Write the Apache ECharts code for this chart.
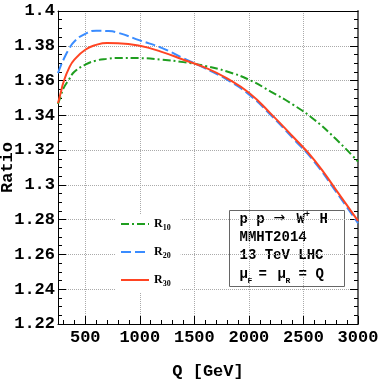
<!DOCTYPE html>
<html>
<head>
<meta charset="utf-8">
<script src="https://cdn.jsdelivr.net/npm/echarts@6/dist/echarts.min.js"></script>
<style>
  html, body { margin: 0; padding: 0; background: #fff; }
  #chart { width: 382px; height: 382px; }
</style>
</head>
<body>
<div id="chart"></div>
<script>
// Q values in GeV
const qValues = [250, 275, 300, 350, 400, 500, 600, 700, 800, 1000, 1200, 1400, 1600, 1800, 2000, 2200, 2400, 2600, 2800, 3000]
const r10 = [1.3465, 1.3510, 1.3555, 1.3605, 1.3650, 1.3691, 1.3715, 1.3725, 1.3730, 1.3729, 1.3720, 1.3706, 1.3684, 1.3652, 1.3605, 1.3537, 1.3463, 1.3375, 1.3262, 1.3134]
const r20 = [1.3643, 1.3685, 1.3720, 1.3780, 1.3825, 1.3869, 1.3887, 1.3885, 1.3875, 1.3831, 1.3788, 1.3728, 1.3670, 1.3605, 1.3520, 1.3402, 1.3270, 1.3133, 1.2960, 1.2780]
const r30 = [1.3470, 1.3530, 1.3590, 1.3670, 1.3720, 1.3777, 1.3805, 1.3816, 1.3815, 1.3800, 1.3765, 1.3720, 1.3674, 1.3612, 1.3530, 1.3410, 1.3280, 1.3143, 1.2970, 1.2793]
const xTickLabels = [500, 1000, 1500, 2000, 2500, 3000]
const xMinorTicks = []
for (let v = 300; v <= 3000; v += 100) xMinorTicks.push(v)

const monoFont = 'Liberation Mono'
const green = '#1f9e1f'
const blue = '#3a8cff'
const red = '#ff4422'

function pairs(ys) {
  return qValues.map((q, i) => [q, ys[i]])
}

// one piece of text in the info box
function boxText(x, y, text, size) {
  return {
    type: 'text',
    x: x,
    y: y,
    style: {
      text: text,
      fontFamily: monoFont,
      fontWeight: 'bold',
      fontSize: size || 14,
      fill: '#000',
      verticalAlign: 'middle'
    }
  }
}

const chart = echarts.init(document.getElementById('chart'), null, { renderer: 'canvas' })

const gridLine = { show: true, lineStyle: { color: '#aaa', type: [1, 1], width: 1 } }

chart.setOption({
  animation: false,
  backgroundColor: '#fff',
  grid: { left: 58, right: 24, top: 11, bottom: 58, containLabel: false, outerBoundsMode: 'none' },
  legend: {
    orient: 'vertical',
    left: 116,
    top: 214,
    itemWidth: 28,
    itemHeight: 12,
    itemGap: 14,
    padding: [4, 10, 4, 4],
    backgroundColor: '#fff',
    itemStyle: { opacity: 0 },
    formatter: function (name) {
      return '{r|R}{s|' + name.slice(1) + '}'
    },
    textStyle: {
      rich: {
        r: { fontFamily: 'Liberation Serif', fontWeight: 'bold', fontSize: 12, color: '#000' },
        s: { fontFamily: 'Liberation Serif', fontWeight: 'bold', fontSize: 8, color: '#000', verticalAlign: 'bottom', padding: [8, 0, 0, 0] }
      }
    },
    data: ['R10', 'R20', 'R30']
  },
  xAxis: [{
    type: 'value',
    min: 250,
    max: 3000,
    position: 'bottom',
    name: 'Q [GeV]',
    nameLocation: 'middle',
    nameGap: 39,
    nameTextStyle: { fontFamily: monoFont, fontWeight: 'bold', fontSize: 17, color: '#000' },
    axisLine: { show: true, lineStyle: { color: '#000', width: 1 } },
    axisTick: { show: true, inside: true, length: 8, customValues: xTickLabels, lineStyle: { color: '#000' } },
    axisLabel: {
      customValues: xTickLabels,
      formatter: v => String(v),
      fontFamily: monoFont, fontWeight: 'bold', fontSize: 17, color: '#000', margin: 5
    },
    splitLine: gridLine
  }, {
    type: 'value',
    min: 250,
    max: 3000,
    position: 'bottom',
    axisLine: { show: false },
    axisTick: { show: true, inside: true, length: 4, customValues: xMinorTicks, lineStyle: { color: '#000' } },
    axisLabel: { show: false },
    splitLine: { show: false }
  }, {
    type: 'value',
    min: 250,
    max: 3000,
    position: 'top',
    axisLine: { show: true, lineStyle: { color: '#000', width: 1 } },
    axisTick: { show: false },
    axisLabel: { show: false },
    splitLine: { show: false }
  }],
  yAxis: [{
    type: 'value',
    min: 1.22,
    max: 1.4,
    interval: 0.02,
    position: 'left',
    name: 'Ratio',
    nameLocation: 'middle',
    nameGap: 50,
    nameRotate: 90,
    nameMoveOverlap: false,
    nameTextStyle: { fontFamily: monoFont, fontWeight: 'bold', fontSize: 17, color: '#000', align: 'center', verticalAlign: 'middle' },
    axisLine: { show: true, lineStyle: { color: '#000', width: 1 } },
    axisTick: { show: true, inside: true, length: 8, lineStyle: { color: '#000' } },
    minorTick: { show: true, splitNumber: 4, length: 4, lineStyle: { color: '#000' } },
    axisLabel: { fontFamily: monoFont, fontWeight: 'bold', fontSize: 17, color: '#000', margin: 3 },
    splitLine: gridLine
  }, {
    type: 'value',
    min: 1.22,
    max: 1.4,
    interval: 0.02,
    position: 'right',
    axisLine: { show: true, lineStyle: { color: '#666', width: 2 } },
    axisTick: { show: true, inside: true, length: 8, lineStyle: { color: '#000' } },
    minorTick: { show: true, splitNumber: 4, length: 4, lineStyle: { color: '#000' } },
    axisLabel: { show: false },
    splitLine: { show: false }
  }],
  graphic: [{
    type: 'group',
    left: 229,
    top: 210,
    children: [{
      type: 'rect',
      shape: { x: 0, y: 0, width: 115, height: 76 },
      style: { fill: '#fff', stroke: '#666', lineWidth: 1 }
    },
    boxText(10, 9, 'p p'),
    {
      type: 'text', x: 44, y: 8,
      style: { text: '→', fontFamily: 'DejaVu Sans', fontSize: 14, fill: '#000', verticalAlign: 'middle' }
    },
    boxText(67, 9, 'W'),
    boxText(75, 4, '+', 9),
    boxText(90, 9, 'H'),
    boxText(10, 27, 'MMHT2014'),
    boxText(10, 45, '13 TeV LHC'),
    boxText(10, 64, 'μ'),
    boxText(18, 70, 'F', 8),
    boxText(29, 64, '='),
    boxText(48, 64, 'μ'),
    boxText(56, 70, 'R', 8),
    boxText(69, 64, '='),
    boxText(86, 64, 'Q')]
  }],
  series: [{
    name: 'R10',
    type: 'line',
    smooth: true,
    symbol: 'none',
    data: pairs(r10),
    lineStyle: { color: green, width: 2, type: [8, 3, 2, 3] },
    itemStyle: { color: green },
    z: 3
  }, {
    name: 'R20',
    type: 'line',
    smooth: true,
    symbol: 'none',
    data: pairs(r20),
    lineStyle: { color: blue, width: 2, type: [10, 4] },
    itemStyle: { color: blue },
    z: 4
  }, {
    name: 'R30',
    type: 'line',
    smooth: true,
    symbol: 'none',
    data: pairs(r30),
    lineStyle: { color: red, width: 2 },
    itemStyle: { color: red },
    z: 5
  }]
})
</script>
</body>
</html>
